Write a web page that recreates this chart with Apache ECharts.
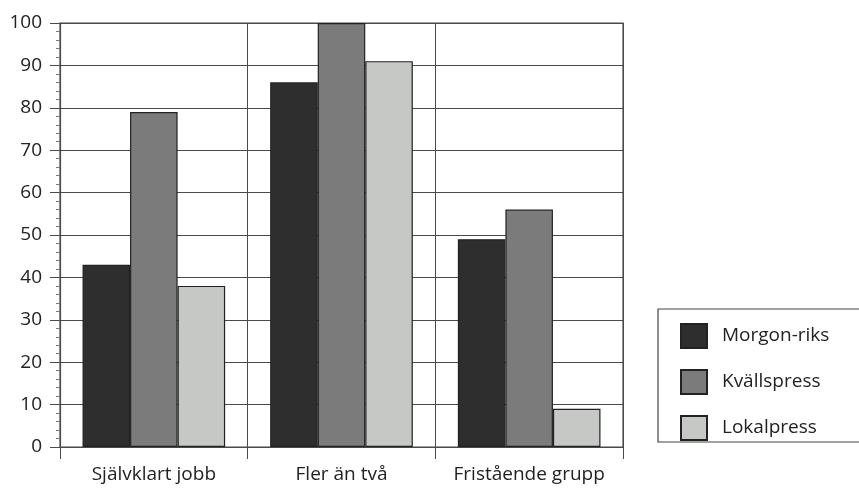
<!DOCTYPE html>
<html>
<head>
<meta charset="utf-8">
<script src="https://cdn.jsdelivr.net/npm/echarts@6/dist/echarts.min.js"></script>
<style>
html,body{margin:0;padding:0;background:#fff;}
#c{width:859px;height:490px;}
</style>
</head>
<body>
<div id="c"></div>
<script>
const categories = ['Självklart jobb', 'Fler än två', 'Fristående grupp'];
const morgonRiks = [43, 86, 49];
const kvallspress = [79, 100, 56];
const lokalpress = [38, 91, 9];
const seriesNames = ['Morgon-riks', 'Kvällspress', 'Lokalpress'];
const yTicks = [0, 10, 20, 30, 40, 50, 60, 70, 80, 90, 100];

const FONT = 'Open Sans';
const lineCol = '#4a4a4a';
const txtCol = '#222';
const chart = echarts.init(document.getElementById('c'));
const barStyle = (c) => ({ color: c, borderColor: '#222', borderWidth: 1.2 });

chart.setOption({
  animation: false,
  backgroundColor: '#fff',
  textStyle: { fontFamily: FONT },
  grid: { left: 60, right: 236, top: 23, bottom: 43, show: true, borderColor: lineCol, borderWidth: 1.2 },
  legend: {
    orient: 'vertical',
    left: 675, top: 318,
    itemWidth: 26, itemHeight: 24, itemGap: 20,
    icon: 'rect',
    textStyle: { fontFamily: FONT, fontSize: 19, color: txtCol, padding: [0, 0, 0, 10], lineHeight: 26 },
    data: seriesNames
  },
  xAxis: {
    type: 'category',
    data: categories,
    boundaryGap: true,
    axisLine: { lineStyle: { color: lineCol, width: 1.2 } },
    axisTick: { show: true, interval: 0, length: 12, lineStyle: { color: lineCol } },
    splitLine: { show: true, interval: 0, lineStyle: { color: lineCol, width: 1 } },
    axisLabel: { interval: 0, fontFamily: FONT, fontSize: 19, color: txtCol, margin: 18 }
  },
  yAxis: {
    type: 'value',
    min: yTicks[0], max: yTicks[yTicks.length - 1], interval: 10,
    axisLine: { show: true, lineStyle: { color: lineCol, width: 1.2 } },
    axisTick: { show: true, length: 10, lineStyle: { color: lineCol } },
    minorTick: { show: true, splitNumber: 5, length: 4, lineStyle: { color: '#777' } },
    splitLine: { show: true, lineStyle: { color: lineCol, width: 1 } },
    axisLabel: { fontFamily: FONT, fontSize: 19, color: txtCol, margin: 18 }
  },
  series: [
    { name: seriesNames[0], type: 'bar', data: morgonRiks, barGap: '0%', barCategoryGap: '24%', itemStyle: barStyle('#2e2e2e') },
    { name: seriesNames[1], type: 'bar', data: kvallspress, itemStyle: barStyle('#7b7b7b') },
    { name: seriesNames[2], type: 'bar', data: lokalpress, itemStyle: barStyle('#c6c8c6') }
  ],
  graphic: [
    { type: 'rect', shape: { x: 658, y: 309, width: 210, height: 133 }, style: { fill: 'none', stroke: '#444', lineWidth: 1.2 }, z: 100 }
  ]
});
</script>
</body>
</html>
